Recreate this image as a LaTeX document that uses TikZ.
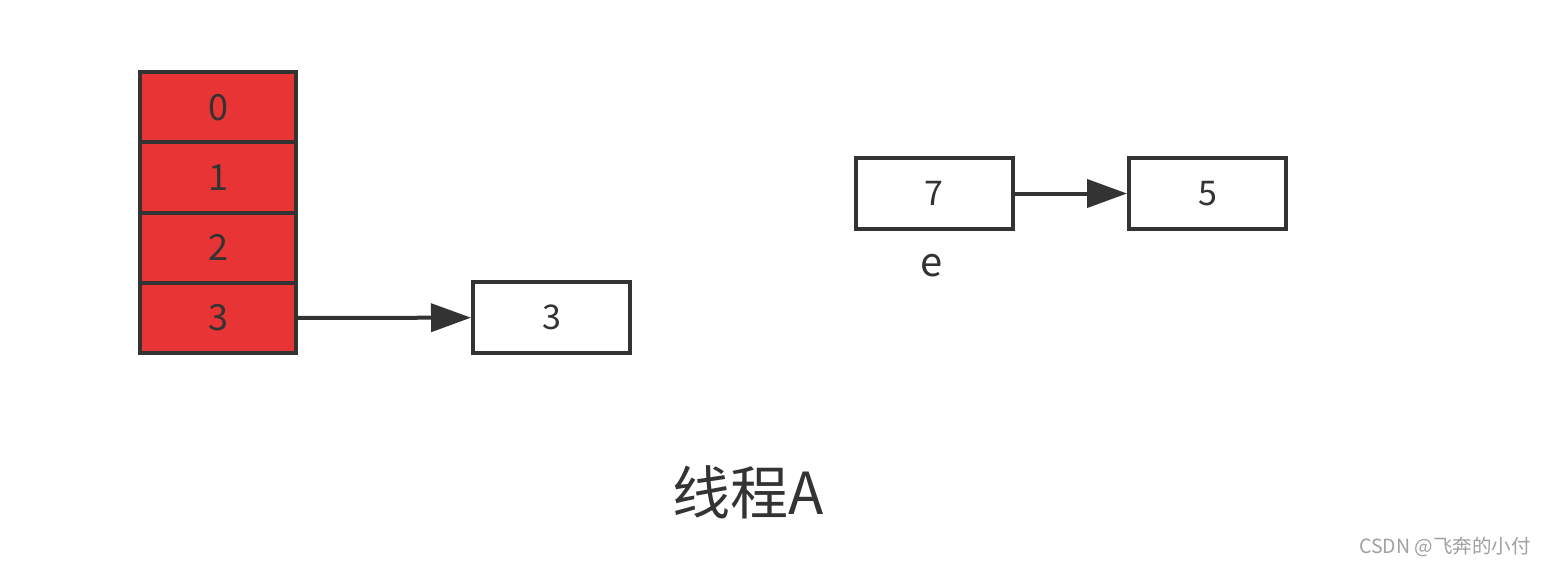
\documentclass[tikz,border=0pt]{standalone}
\usepackage{fontspec}
\setmainfont{Noto Sans CJK SC}
\usetikzlibrary{arrows.meta}

\definecolor{cellred}{HTML}{E83434}
\definecolor{ink}{HTML}{333333}
\definecolor{mark}{HTML}{A0A0A0}

\tikzset{
  cell/.style={draw=ink, line width=4pt, fill=cellred, minimum width=156pt,
    minimum height=70.3pt, inner sep=0pt, text=ink, font=\fontsize{36}{36}\selectfont},
  listbox/.style={draw=ink, line width=4pt, fill=white, minimum width=157pt,
    minimum height=71pt, inner sep=0pt, text=ink, font=\fontsize{34}{34}\selectfont},
  link/.style={draw=ink, line width=4pt, -{Triangle[length=40pt,width=28pt]}}
}

\begin{document}
\begin{tikzpicture}[x=1pt,y=-1pt]
        \useasboundingbox[fill=white] (0,0) rectangle (1546,566);
        % table
        \node[cell] (c0) at (218,107.2) {0};
        \node[cell] (c1) at (218,177.5) {1};
        \node[cell] (c2) at (218,247.8) {2};
        \node[cell] (c3) at (218,318.1) {3};
        % lists
        \node[listbox] (n3) at (551.5,317.5) {3};
        \node[listbox] (n7) at (934,193.5) {7};
        \node[listbox] (n5) at (1207.5,193.5) {5};
        \node[text=ink, font=\fontsize{40}{40}\selectfont] (e) at (932,266) {e};
        \draw[link] (c3) -- (n3);
        \draw[link] (n7) -- (n5);
        % captions
        \node[text=ink, font=\fontsize{58}{58}\selectfont] (title) at (748,492) {线程A};
        \node[text=mark, font=\fontsize{19.5}{19.5}\selectfont] (credit) at (1445,547) {CSDN @飞奔的小付};
      \end{tikzpicture}
\end{document}
